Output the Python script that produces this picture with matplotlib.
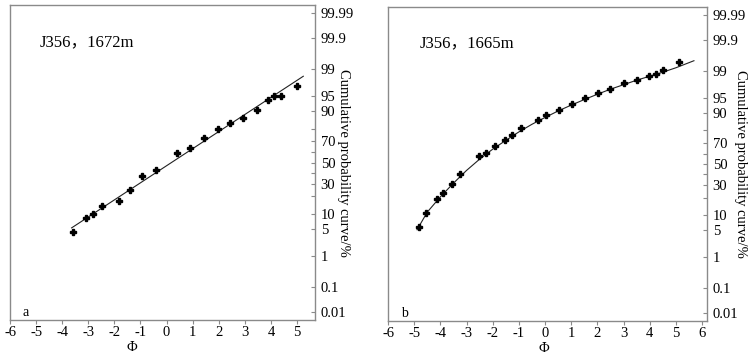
# Grain-size cumulative probability curves, J356 well (1672 m and 1665 m)
import numpy as np
import matplotlib
matplotlib.use('Agg')
import matplotlib.pyplot as plt
from statistics import NormalDist

# ---- data ----
# panel a : J356, 1672m
phi_a = [-3.57, -3.09, -2.83, -2.49, -1.81, -1.40, -0.93, -0.42, 0.41, 0.91,
         1.44, 1.97, 2.43, 2.94, 3.46, 3.90, 4.13, 4.40, 4.99]
cum_a = [4.3, 8.5, 10.2, 14.0, 16.8, 25.0, 36.8, 43.0, 59.0, 64.4,
         72.6, 79.5, 84.0, 86.8, 90.3, 94.0, 95.0, 95.2, 97.2]
fit_phi_a = [-3.64, 5.24]
fit_cum_a = [5.2, 98.4]

# panel b : J356, 1665m
phi_b = [-4.83, -4.55, -4.13, -3.90, -3.55, -3.24, -2.53, -2.25, -1.92, -1.52,
         -1.27, -0.92, -0.26, 0.05, 0.53, 1.02, 1.53, 2.02, 2.49, 3.02,
         3.53, 3.99, 4.24, 4.50, 5.13]
cum_b = [5.8, 10.9, 18.9, 23.6, 31.2, 40.5, 57.5, 61.0, 67.7, 72.6,
         76.3, 81.3, 86.4, 88.9, 91.1, 93.4, 95.1, 96.2, 97.0, 97.8,
         98.2, 98.6, 98.8, 99.06, 99.45]
fit_phi_b = [-4.89, -4.5, -4.0, -3.5, -3.0, -2.5, -2.0, -1.5, -1.0, -0.5, 0.0,
             0.5, 1.0, 1.5, 2.0, 2.5, 3.0, 3.5, 4.0, 4.5, 5.0, 5.69]
fit_cum_b = [5.05, 11.5, 20.6, 31.6, 43.6, 54.8, 64.4, 72.2, 78.8, 83.9, 87.7,
             90.7, 92.9, 94.6, 95.9, 96.9, 97.6, 98.17, 98.57, 98.9, 99.18, 99.5]

labels_prob = ['0.01', '0.1', '1', '5', '10', '30', '50', '70', '90', '95', '99', '99.9', '99.99']
minor_prob = [20, 40, 60, 80]
xticks = list(range(-6, 7))

# ---- probability (probit) scale ----
_nd = NormalDist()


def prob_fwd(p):
    p = np.clip(np.asarray(p, dtype=float) / 100.0, 1e-12, 1 - 1e-12)
    return np.vectorize(_nd.inv_cdf, otypes=[float])(p)


def prob_inv(z):
    return np.vectorize(_nd.cdf, otypes=[float])(np.asarray(z, dtype=float)) * 100.0


SERIF = ['Liberation Serif', 'Noto Sans CJK SC']
plt.rcParams['font.family'] = SERIF
plt.rcParams['axes.unicode_minus'] = False
GREY = '#8a8a8a'

fig = plt.figure(figsize=(7.54, 3.55), dpi=100)
ax_a = fig.add_axes([0.0133, 0.0986, 0.4045, 0.8873])
ax_b = fig.add_axes([0.5146, 0.0958, 0.4231, 0.8845])


def style_panel(ax, xmax, title, letter, xlab_x, ylab_x):
    ax.set_yscale('function', functions=(prob_fwd, prob_inv))
    ax.set_ylim(0.0045, 99.9955)
    ax.set_xlim(-6, xmax)
    ax.set_xticks([t for t in xticks if t <= xmax])
    ax.set_yticks([float(v) for v in labels_prob])
    ax.set_yticklabels(labels_prob)
    ax.set_yticks(minor_prob, minor=True)
    ax.yaxis.set_minor_formatter(plt.NullFormatter())
    ax.yaxis.tick_right()
    ax.yaxis.set_label_position('right')
    ax.tick_params(axis='y', which='both', direction='in', length=3, width=0.8,
                   color=GREY, labelsize=10.5, pad=4, left=False, right=True)
    ax.tick_params(axis='x', direction='out', length=3, width=0.8, color=GREY,
                   labelsize=10.5, pad=1.5)
    for s in ax.spines.values():
        s.set_color(GREY)
        s.set_linewidth(1.0)
    ax.set_xlabel('Φ', fontsize=10.5)
    ax.xaxis.set_label_coords(xlab_x, -0.066)
    ax.set_ylabel('Cumulative probability curve/%', fontsize=10.5, rotation=270)
    ax.yaxis.set_label_coords(ylab_x, 0.5)
    ax.text(0.098, 0.883, title, transform=ax.transAxes, fontsize=12,
            va='center', ha='left', family=SERIF)
    ax.text(0.04, 0.025, letter, transform=ax.transAxes, fontsize=10,
            va='center', ha='left')


# panel a
ax_a.plot(fit_phi_a, fit_cum_a, color='#222222', lw=0.8)
ax_a.plot(phi_a, cum_a, linestyle='none', marker='P', ms=4.2, color='black')
style_panel(ax_a, 5.69, 'J356，1672m', 'a', 0.40, 1.115)

# panel b
ax_b.plot(fit_phi_b, fit_cum_b, color='#222222', lw=0.8)
ax_b.plot(phi_b, cum_b, linestyle='none', marker='P', ms=4.2, color='black')
style_panel(ax_b, 6.19, 'J356，1665m', 'b', 0.49, 1.125)

fig.savefig('out.png', dpi=100)
